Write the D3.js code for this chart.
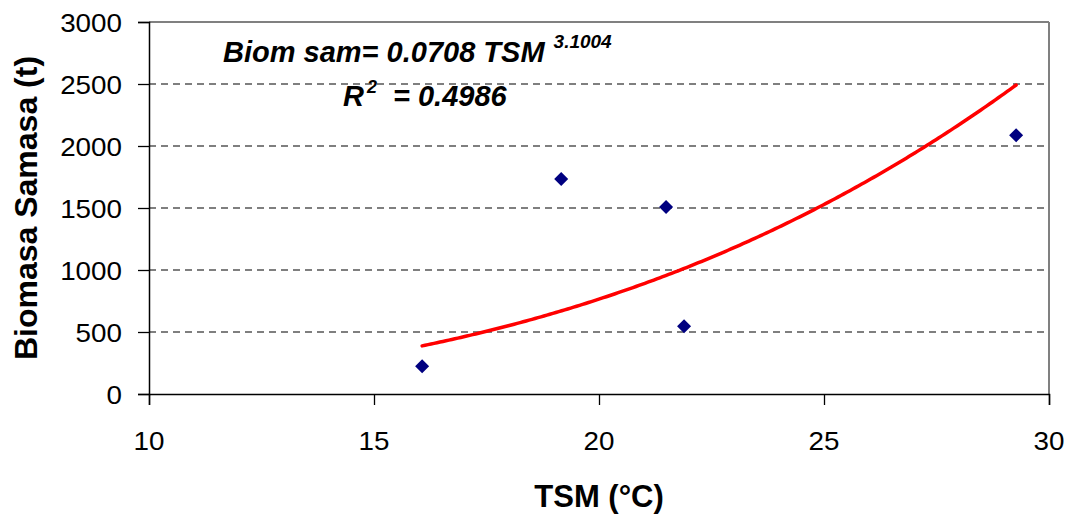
<!DOCTYPE html>
<html>
<head>
<meta charset="utf-8">
<script src="https://cdn.jsdelivr.net/npm/d3@7/dist/d3.min.js"></script>
<style>
  html, body { margin: 0; padding: 0; background: #fff; }
  svg { display: block; font-family: "Liberation Sans", Arial, sans-serif; }
</style>
</head>
<body>
<svg id="chart" width="1076" height="520"></svg>
<script>
// Observed sea-surface temperature (°C) and wet biomass (t)
const tsm = [16.07, 19.16, 21.49, 21.89, 29.27];
const biomasa = [223, 1734, 1508, 546, 2086];

// Power trendline: Biom sam = a * TSM^b
const coefA = 0.0708;
const coefB = 3.1004;
const r2 = 0.4986;

const xTicks = [10, 15, 20, 25, 30];
const yTicks = [0, 500, 1000, 1500, 2000, 2500, 3000];

const svg = d3.select("#chart");
const plotL = 149, plotR = 1049, plotT = 22, plotB = 394;

const x = d3.scaleLinear().domain([10, 30]).range([plotL, plotR]);
const y = d3.scaleLinear().domain([0, 3000]).range([plotB, plotT]);

// dashed horizontal gridlines
svg.append("g").selectAll("line")
  .data(yTicks.filter(v => v > 0 && v < 3000))
  .join("line")
  .attr("x1", plotL).attr("x2", plotR)
  .attr("y1", d => y(d)).attr("y2", d => y(d))
  .attr("stroke", "#555").attr("stroke-width", 1.3)
  .attr("stroke-dasharray", "7,5");

// grey frame on top and right
svg.append("line").attr("x1", plotL).attr("x2", plotR).attr("y1", plotT).attr("y2", plotT)
  .attr("stroke", "#808080").attr("stroke-width", 2);
svg.append("line").attr("x1", plotR).attr("x2", plotR).attr("y1", plotT).attr("y2", plotB)
  .attr("stroke", "#808080").attr("stroke-width", 2);

// axes
const yAxis = svg.append("g").attr("transform", `translate(${plotL},0)`)
  .call(d3.axisLeft(y).tickValues(yTicks).tickSize(11).tickFormat(""));
const xAxis = svg.append("g").attr("transform", `translate(0,${plotB})`)
  .call(d3.axisBottom(x).tickValues(xTicks).tickSize(11).tickFormat(""));
[yAxis, xAxis].forEach(g => {
  g.selectAll("path").attr("stroke", "#000").attr("stroke-width", 1.5);
  g.selectAll("line").attr("stroke", "#000").attr("stroke-width", 1.3);
});

// tick labels (slightly wide glyphs)
svg.append("g").selectAll("text")
  .data(yTicks).join("text")
  .attr("transform", d => `translate(122,${y(d) + 9.5}) scale(1.07,1)`)
  .attr("text-anchor", "end")
  .attr("font-size", 26).attr("fill", "#000")
  .text(d => d);
svg.append("g").selectAll("text")
  .data(xTicks).join("text")
  .attr("transform", d => `translate(${x(d)},450) scale(1.07,1)`)
  .attr("text-anchor", "middle")
  .attr("font-size", 26).attr("fill", "#000")
  .text(d => d);

// axis titles
svg.append("text")
  .attr("transform", `translate(${(plotL + plotR) / 2},507)`)
  .attr("text-anchor", "middle")
  .attr("font-size", 31).attr("font-weight", "bold")
  .text("TSM (°C)");
svg.append("text")
  .attr("transform", `translate(37,${(plotT + plotB) / 2}) rotate(-90)`)
  .attr("text-anchor", "middle")
  .attr("font-size", 32).attr("font-weight", "bold")
  .text("Biomasa Samasa (t)");

// trendline over the observed temperature range
const [tMin, tMax] = d3.extent(tsm);
const trend = d3.range(0, 201).map(i => {
  const t = tMin + (tMax - tMin) * i / 200;
  return [t, coefA * Math.pow(t, coefB)];
});
svg.append("path")
  .datum(trend)
  .attr("fill", "none")
  .attr("stroke", "#ff0000")
  .attr("stroke-width", 3.5)
  .attr("stroke-linecap", "round")
  .attr("d", d3.line().x(d => x(d[0])).y(d => y(d[1])));

// observations as diamonds
svg.append("g").selectAll("path")
  .data(tsm.map((t, i) => [t, biomasa[i]]))
  .join("path")
  .attr("transform", d => `translate(${x(d[0])},${y(d[1])})`)
  .attr("d", "M0,-7L7,0L0,7L-7,0Z")
  .attr("fill", "#000080");

// equation annotation
const eq = svg.append("text")
  .attr("x", 223).attr("y", 62)
  .attr("font-size", 29).attr("font-weight", "bold").attr("font-style", "italic");
eq.append("tspan").text(`Biom sam= ${coefA} TSM`);
eq.append("tspan").attr("dx", 9).attr("dy", -14).attr("font-size", 19).text(coefB);

const rt = svg.append("text")
  .attr("x", 343).attr("y", 106)
  .attr("font-size", 29).attr("font-weight", "bold").attr("font-style", "italic");
rt.append("tspan").text("R");
rt.append("tspan").attr("dx", 3).attr("dy", -13).attr("font-size", 18).text("2");
rt.append("tspan").attr("dx", 16).attr("dy", 13).text(`= ${r2}`);
</script>
</body>
</html>
